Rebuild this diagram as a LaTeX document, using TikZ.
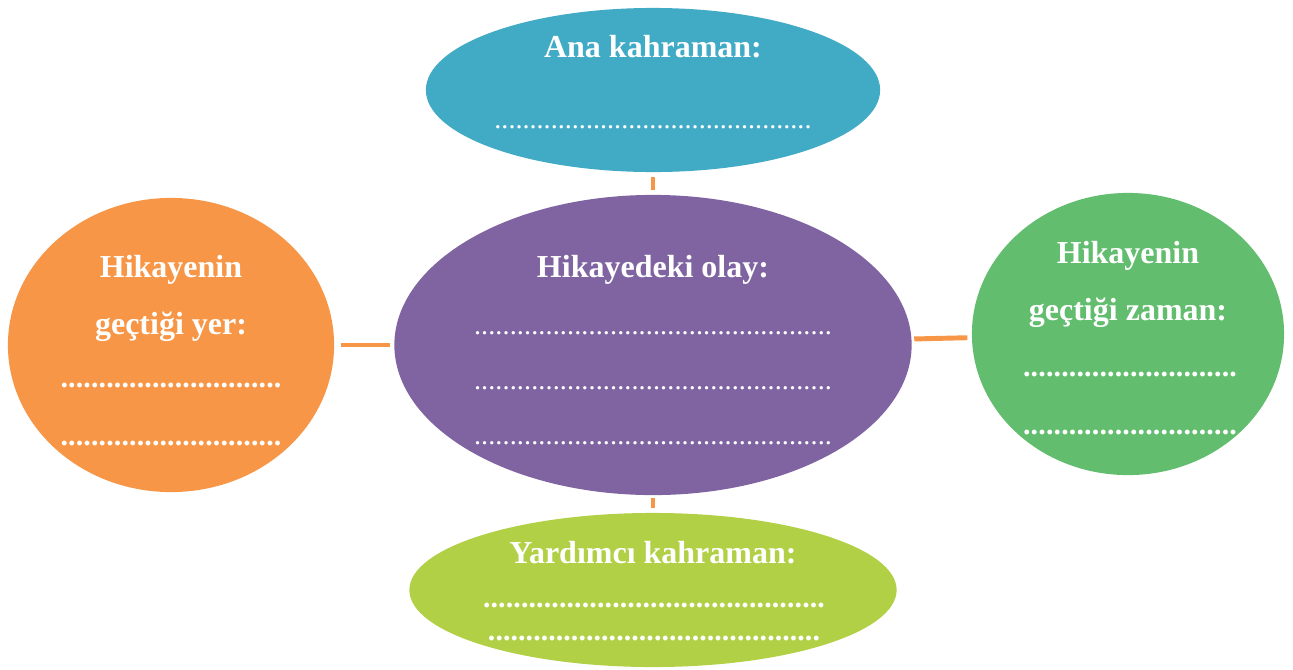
\documentclass[tikz,border=0pt]{standalone}
\usepackage{fontspec}
\setmainfont{Liberation Serif}
\usetikzlibrary{shapes.geometric}
\definecolor{cblue}{RGB}{65,171,198}
\definecolor{cpurple}{RGB}{128,100,162}
\definecolor{corange}{RGB}{247,150,70}
\definecolor{cgreen}{RGB}{98,189,110}
\definecolor{clime}{RGB}{178,208,69}
\newcommand\dotrowthin[1]{{\fontsize{8}{9}\selectfont\mdseries\hbox to #1{\xleaders\hbox{.}\hfill}}}
\newcommand\dotrowbold[1]{{\fontsize{8.5}{10}\selectfont\bfseries\hbox to #1{\xleaders\hbox{.}\hfill}}}
\begin{document}
\begin{tikzpicture}[x=0.01cm,y=-0.01cm,
  blob/.style={ellipse,inner sep=0pt,draw=none},
  lbl/.style={text=white,inner sep=0pt,font=\fontsize{9.1}{11}\selectfont\bfseries},
  link/.style={draw=corange,line width=1.4pt}]
\useasboundingbox (0,0) rectangle (1293,669);
\node[blob,fill=cblue,minimum width=4.54cm,minimum height=1.64cm] (top) at (653,90) {};
\node[blob,fill=cpurple,minimum width=5.17cm,minimum height=3.0cm] (mid) at (653,345) {};
\node[blob,fill=corange,minimum width=3.26cm,minimum height=2.94cm] (left) at (171,345) {};
\node[blob,fill=cgreen,minimum width=3.12cm,minimum height=2.82cm] (right) at (1128,334) {};
\node[blob,fill=clime,minimum width=4.87cm,minimum height=1.54cm] (bot) at (653,590) {};
\draw[link,shorten <=1.3pt,shorten >=1.1pt] (top) -- (mid);
\draw[link,shorten <=1.7pt,shorten >=0.9pt] (left) -- (mid);
\draw[link,shorten <=0.6pt,shorten >=1.1pt] (mid) -- (right);
\draw[link,shorten <=0.6pt,shorten >=1.2pt] (mid) -- (bot);
% top
\node[lbl] (t1) at (653,47) {Ana kahraman:};
\node[lbl] (t2) at (653,127) {\dotrowthin{3.17cm}};
% middle
\node[lbl] (m1) at (653,270) {Hikayedeki olay:};
\node[lbl] (m2) at (653,333) {\dotrowthin{3.58cm}};
\node[lbl] (m3) at (653,388) {\dotrowthin{3.58cm}};
\node[lbl] (m4) at (653,443) {\dotrowthin{3.58cm}};
% left
\node[lbl] (l1) at (171,270) {Hikayenin};
\node[lbl] (l2) at (171,327) {geçtiği yer:};
\node[lbl] (l3) at (171,385) {\dotrowbold{2.21cm}};
\node[lbl] (l4) at (171,443) {\dotrowbold{2.21cm}};
% right
\node[lbl] (r1) at (1128,256) {Hikayenin};
\node[lbl] (r2) at (1128,313) {geçtiği zaman:};
\node[lbl] (r3) at (1130,374) {\dotrowbold{2.14cm}};
\node[lbl] (r4) at (1130,432) {\dotrowbold{2.14cm}};
% bottom
\node[lbl] (b1) at (653,553) {Yardımcı kahraman:};
\node[lbl] (b2) at (654,605) {\dotrowbold{3.42cm}};
\node[lbl] (b3) at (654,638) {\dotrowbold{3.32cm}};
\end{tikzpicture}
\end{document}
